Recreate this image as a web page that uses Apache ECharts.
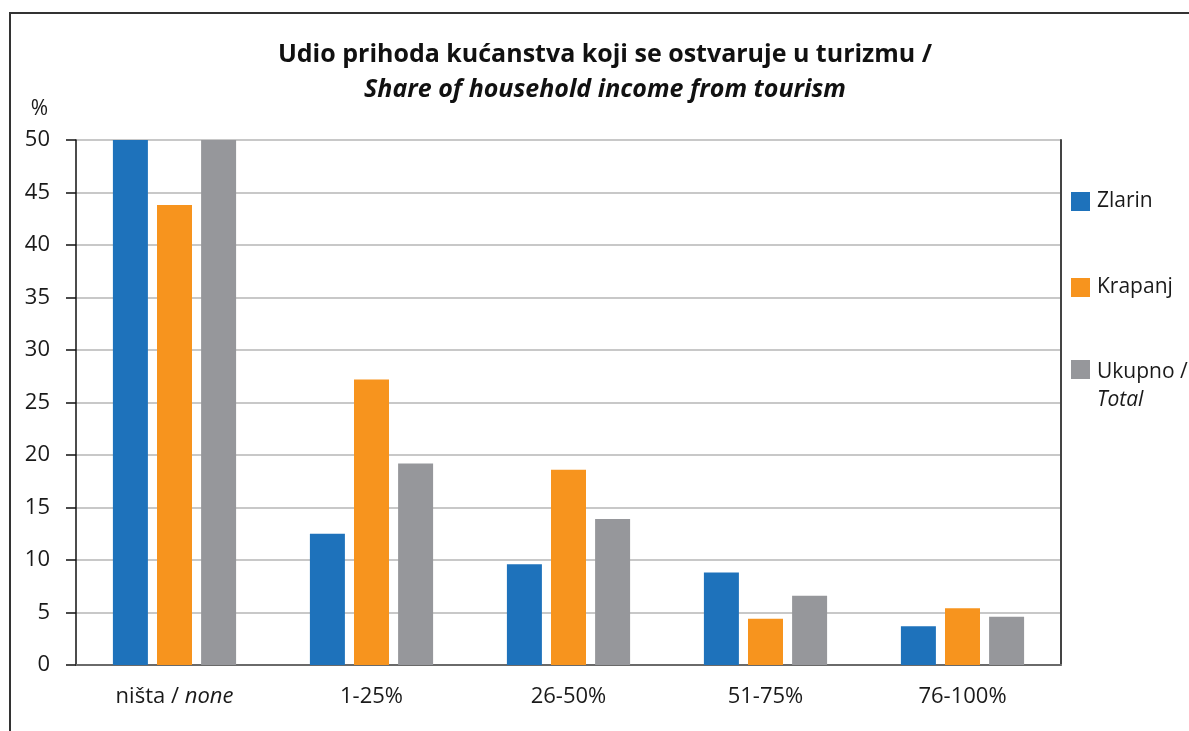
<!DOCTYPE html>
<html>
<head>
<meta charset="utf-8">
<script src="https://cdn.jsdelivr.net/npm/echarts@6/dist/echarts.min.js"></script>
<style>html,body{margin:0;padding:0;background:#fff}#c{width:1189px;height:731px}</style>
</head>
<body>
<div id="c"></div>
<script>
const categories = ['ništa / none', '1-25%', '26-50%', '51-75%', '76-100%'];
const zlarin = [50, 12.5, 9.6, 8.8, 3.7];
const krapanj = [43.8, 27.2, 18.6, 4.4, 5.4];
const ukupno = [50, 19.2, 13.9, 6.6, 4.6];
const yTicks = [0, 5, 10, 15, 20, 25, 30, 35, 40, 45, 50];

const FONT = '"Open Sans", "Noto Sans", sans-serif';
const chart = echarts.init(document.getElementById('c'), null, {renderer: 'canvas'});

const barBase = {type: 'bar', barWidth: 35, barGap: '26%', clip: true};
const legendBase = {orient: 'vertical', left: 1071, padding: 0, itemWidth: 19, itemHeight: 19, icon: 'rect'};

chart.setOption({
  animation: false,
  textStyle: {fontFamily: FONT, color: '#1a1a1a'},
  title: {
    left: 600, top: 32, textAlign: 'center',
    text: '{b|Udio prihoda kućanstva koji se ostvaruje u turizmu /}\n{i|Share of household income from tourism}',
    textStyle: {
      rich: {
        b: {fontFamily: FONT, fontWeight: 'bold', fontSize: 25, lineHeight: 35, color: '#111'},
        i: {fontFamily: FONT, fontWeight: 'bold', fontStyle: 'italic', fontSize: 25, lineHeight: 35, color: '#111'}
      }
    }
  },
  grid: {left: 76, top: 140, right: 128, bottom: 66, containLabel: false},
  legend: [
    Object.assign({}, legendBase, {top: 191, data: ['Zlarin'],
      textStyle: {fontFamily: FONT, fontSize: 21, color: '#1a1a1a', padding: [0,0,0,2]}}),
    Object.assign({}, legendBase, {top: 277, data: ['Krapanj'],
      textStyle: {fontFamily: FONT, fontSize: 21, color: '#1a1a1a', padding: [0,0,0,2]}}),
    Object.assign({}, legendBase, {top: 360, data: ['Ukupno'],
      formatter: function () { return '{r|Ukupno /}\n{i|Total}'; },
      textStyle: {fontFamily: FONT, fontSize: 21, color: '#1a1a1a', padding: [33,0,0,2],
        rich: {
          r: {fontFamily: FONT, fontSize: 21, lineHeight: 28, color: '#1a1a1a'},
          i: {fontFamily: FONT, fontSize: 21, fontStyle: 'italic', lineHeight: 28, color: '#1a1a1a'}
        }}})
  ],
  xAxis: [{
    type: 'category', data: categories, position: 'bottom',
    axisLine: {lineStyle: {color: '#a8a8a8', width: 2}},
    axisTick: {show: false},
    axisLabel: {
      interval: 0, margin: 21, fontFamily: FONT, fontSize: 22, color: '#1a1a1a',
      formatter: function (v) {
        if (v.indexOf(' / ') >= 0) { const p = v.split(' / '); return p[0] + ' / {i|' + p[1] + '}'; }
        return v;
      },
      rich: {i: {fontFamily: FONT, fontSize: 22, fontStyle: 'italic', color: '#1a1a1a'}}
    }
  }, {
    type: 'category', data: categories, position: 'top',
    axisLine: {show: true, lineStyle: {color: '#555', width: 1.5}},
    axisTick: {show: false}, axisLabel: {show: false}
  }],
  yAxis: [{
    type: 'value', min: 0, max: 50, interval: 5,
    name: '%', nameLocation: 'end', nameGap: 20,
    nameTextStyle: {fontFamily: FONT, fontSize: 21, color: '#1a1a1a', align: 'right', padding: [0, 28, 0, 0]},
    axisLine: {show: true, lineStyle: {color: '#111', width: 1.5}},
    axisTick: {show: true, inside: false, length: 10, lineStyle: {color: '#111', width: 1.5}},
    axisLabel: {margin: 26, fontFamily: FONT, fontSize: 22, color: '#1a1a1a',
      formatter: function (v) { return yTicks.indexOf(v) >= 0 ? String(v) : ''; }},
    splitLine: {show: true, lineStyle: {color: '#c8c8c8', width: 2}}
  }, {
    type: 'value', min: 0, max: 50, interval: 5, position: 'right',
    axisLine: {show: true, lineStyle: {color: '#444', width: 2}},
    axisTick: {show: false}, axisLabel: {show: false}, splitLine: {show: false}
  }],
  series: [
    Object.assign({}, barBase, {name: 'Zlarin', data: zlarin, itemStyle: {color: '#1e72bb'}}),
    Object.assign({}, barBase, {name: 'Krapanj', data: krapanj, itemStyle: {color: '#f7941e'}}),
    Object.assign({}, barBase, {name: 'Ukupno', data: ukupno, itemStyle: {color: '#96979b'}})
  ],
  graphic: [
    {type: 'line', shape: {x1: 10, y1: 13, x2: 1189, y2: 13}, style: {stroke: '#333', lineWidth: 2}, silent: true},
    {type: 'line', shape: {x1: 10, y1: 12, x2: 10, y2: 731}, style: {stroke: '#333', lineWidth: 2}, silent: true}
  ]
});
</script>
</body>
</html>
